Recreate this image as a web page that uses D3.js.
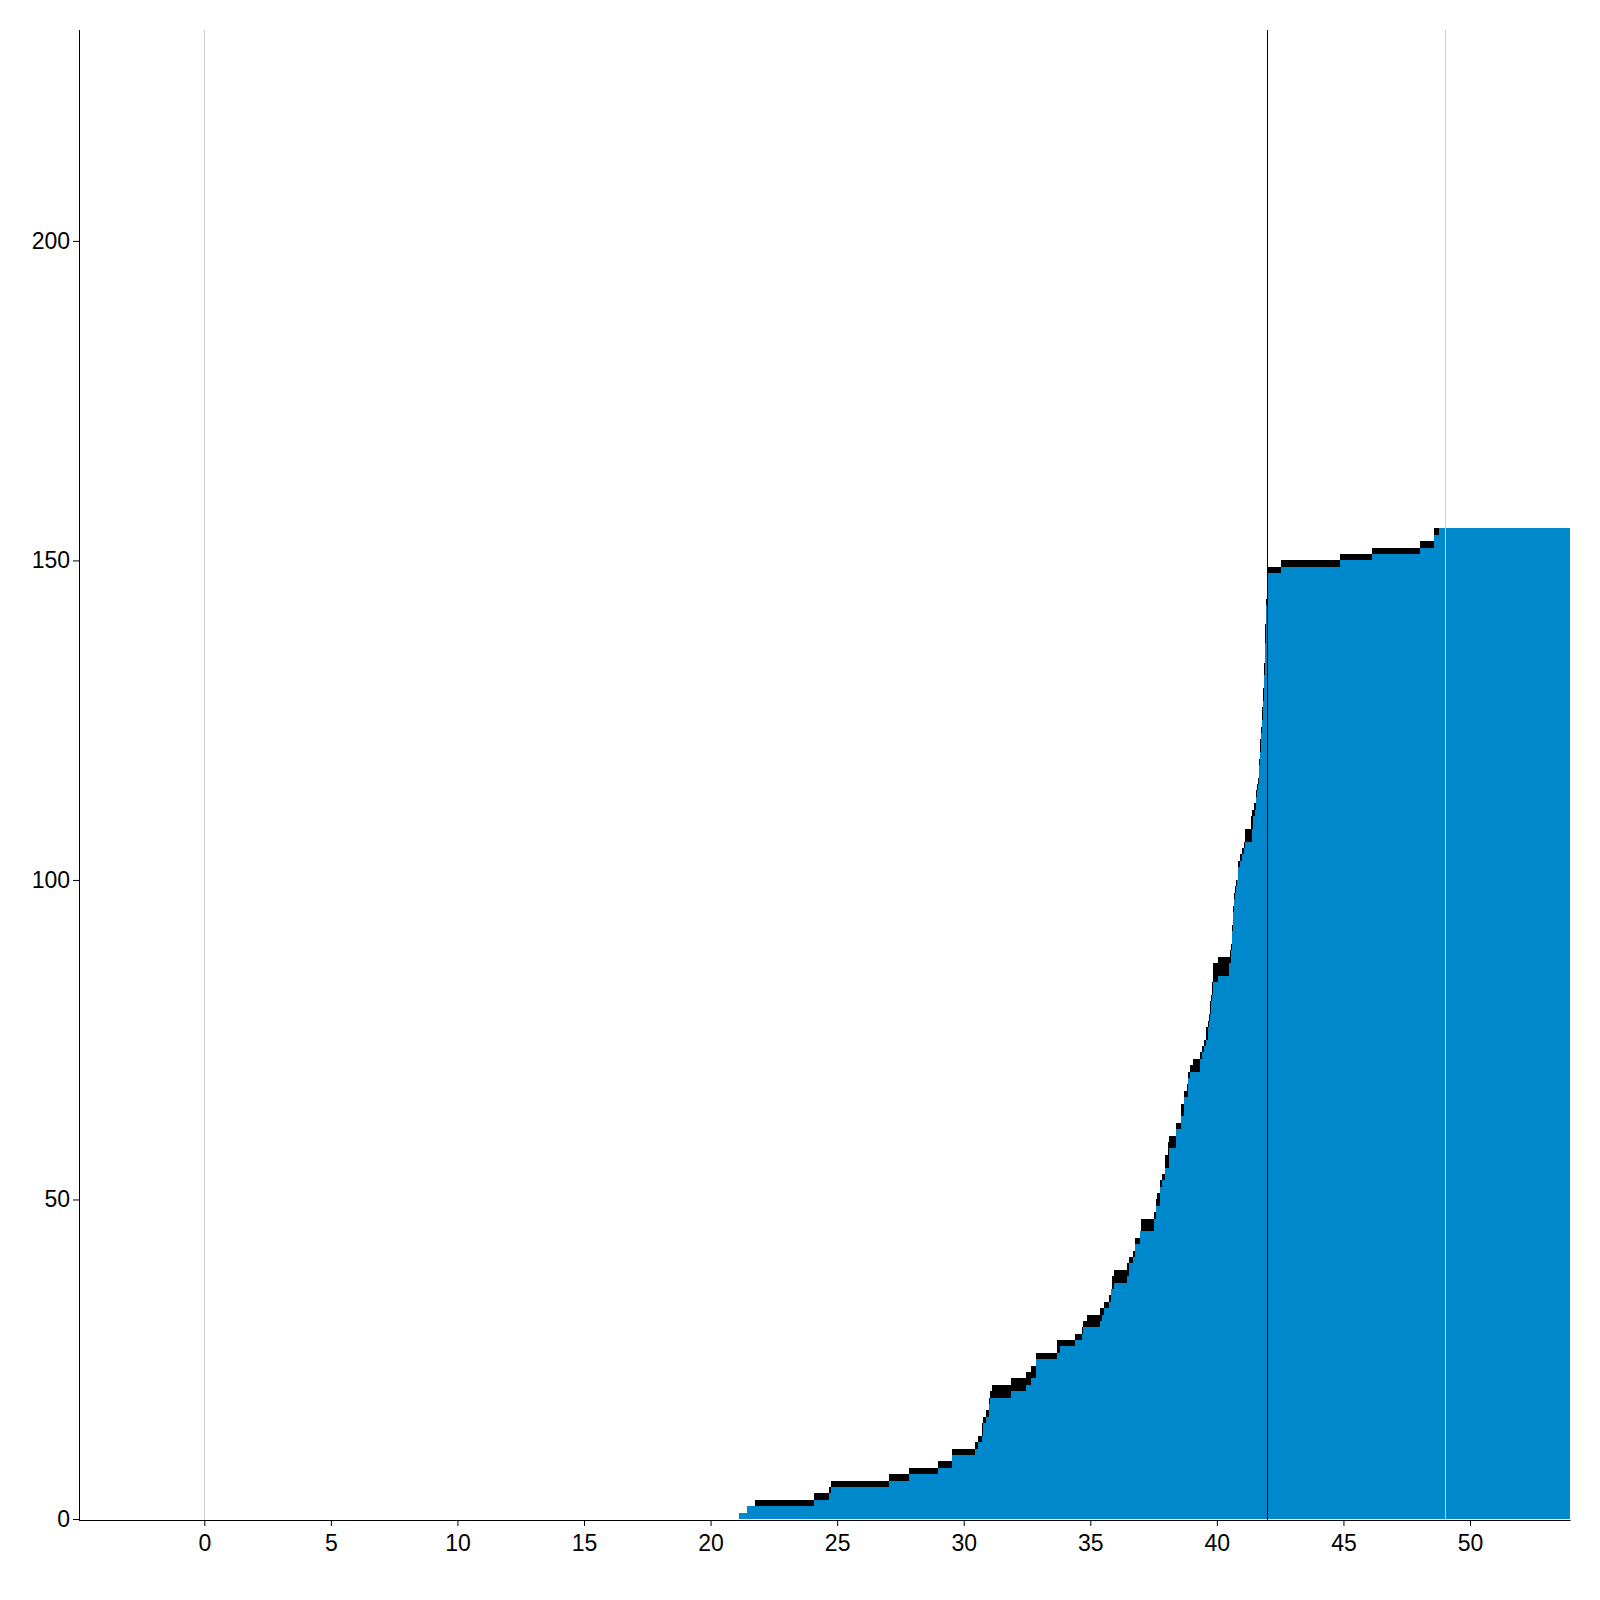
<!DOCTYPE html>
<html>
<head>
<meta charset="utf-8">
<script src="https://cdn.jsdelivr.net/npm/d3@7"></script>
<style>
  html, body { margin: 0; padding: 0; background: #fff; }
  svg { display: block; }
  .axis text { font-family: "Liberation Sans", Arial, sans-serif; font-size: 23px; fill: #000; }
</style>
</head>
<body>
<svg id="chart" width="1600" height="1600"></svg>
<script>
// ---- data ----
const blueDays = [21.12,21.44,24.09,24.68,24.75,27.05,27.84,28.99,29.54,30.45,30.57,30.73,30.77,30.88,31.0,31.04,31.87,32.46,32.66,32.86,33.69,33.81,34.4,34.68,34.72,35.39,35.47,35.55,35.75,35.82,35.94,36.45,36.53,36.69,36.77,36.97,37.5,37.58,37.77,37.84,37.96,38.12,38.4,38.59,38.7,38.86,38.93,39.33,39.4,39.49,39.57,39.65,39.69,39.73,39.77,39.81,39.85,40.05,40.49,40.57,40.6,40.64,40.68,40.72,40.76,40.8,40.84,40.92,41.0,41.08,41.12,41.4,41.44,41.52,41.56,41.6,41.63,41.67,41.71,41.75,41.79,41.83,41.87,41.91,41.95,42.03,42.54,44.87,46.13,48.03,48.59,48.79];
const blueCounts = [1,2,3,4,5,6,7,8,10,11,12,13,15,16,18,19,20,21,22,25,26,27,28,29,30,31,32,33,34,36,37,38,40,41,43,45,47,49,52,53,55,58,61,63,66,69,70,72,73,74,75,77,78,79,81,82,84,85,87,89,92,95,97,98,99,100,102,103,104,105,106,108,110,111,113,114,115,118,120,123,125,128,132,137,143,148,149,150,151,152,154,155];

const blackDays = [21.12,21.44,21.76,24.09,24.68,24.75,27.05,27.84,28.99,29.54,30.45,30.57,30.73,30.77,30.88,31.0,31.04,31.12,31.87,32.46,32.66,32.86,33.69,34.4,34.68,34.72,34.88,35.39,35.55,35.75,35.86,35.94,36.45,36.53,36.69,36.77,36.97,37.01,37.5,37.58,37.62,37.77,37.84,37.96,38.08,38.12,38.4,38.59,38.7,38.82,38.86,38.93,39.05,39.33,39.4,39.49,39.57,39.65,39.69,39.73,39.77,39.81,39.85,40.05,40.53,40.57,40.6,40.64,40.68,40.72,40.76,40.84,40.92,41.0,41.08,41.12,41.36,41.4,41.48,41.56,41.6,41.63,41.67,41.71,41.75,41.79,41.83,41.87,41.91,41.95,42.03,42.54,44.87,46.13,48.03,48.59];
const blackCounts = [1,2,3,4,5,6,7,8,9,11,12,13,15,16,17,19,20,21,22,23,24,26,28,29,30,31,32,33,34,35,38,39,40,41,42,44,45,47,48,50,51,53,54,57,59,60,62,65,67,68,70,71,72,73,74,75,77,78,79,81,82,84,87,88,89,90,93,96,98,99,100,103,104,105,106,108,110,111,112,114,115,116,119,122,124,127,130,134,140,144,149,150,151,152,153,155];

const xDomain = [-4.95, 53.95];
const yDomain = [0, 233];
const xTicks = [0, 5, 10, 15, 20, 25, 30, 35, 40, 45, 50];
const yTicks = [0, 50, 100, 150, 200];
const greyMarkers = [0, 49];
const blackMarkers = [42];

// ---- layout ----
const svg = d3.select("#chart");
const x = d3.scaleLinear().domain(xDomain).range([79, 1570]);
const y = d3.scaleLinear().domain(yDomain).range([1519, 30]);

function series(days, counts) {
  const pts = days.map((d, i) => ({ d: d, v: counts[i] }));
  pts.push({ d: xDomain[1], v: counts[counts.length - 1] });
  return pts;
}

const area = d3.area()
  .curve(d3.curveStepAfter)
  .x(p => x(p.d))
  .y0(y(0))
  .y1(p => y(p.v));

svg.append("path")
  .datum(series(blackDays, blackCounts))
  .attr("d", area)
  .attr("fill", "#000")
  .attr("shape-rendering", "crispEdges");

svg.append("path")
  .datum(series(blueDays, blueCounts))
  .attr("d", area)
  .attr("fill", "#0088cc")
  .attr("shape-rendering", "crispEdges");

// marker lines
svg.selectAll("line.grey").data(greyMarkers).enter().append("line")
  .attr("class", "grey")
  .attr("x1", d => Math.round(x(d)) + 0.5).attr("x2", d => Math.round(x(d)) + 0.5)
  .attr("y1", 30).attr("y2", 1520)
  .attr("stroke", "#cccccc").attr("stroke-width", 1);

svg.selectAll("line.blk").data(blackMarkers).enter().append("line")
  .attr("class", "blk")
  .attr("x1", d => Math.round(x(d)) + 0.5).attr("x2", d => Math.round(x(d)) + 0.5)
  .attr("y1", 30).attr("y2", 1520)
  .attr("stroke", "#000").attr("stroke-width", 1);

// axes
const xAxis = d3.axisBottom(x).tickValues(xTicks).tickSizeOuter(0).tickSize(6).tickPadding(9);
const yAxis = d3.axisLeft(y).tickValues(yTicks).tickSizeOuter(0).tickSize(6).tickPadding(3);

const gx = svg.append("g").attr("class", "axis").attr("transform", "translate(0,1520)").call(xAxis);
const gy = svg.append("g").attr("class", "axis").attr("transform", "translate(79,0)").call(yAxis);
gx.select(".domain").attr("d", "M79,0.5H1570.5");
gy.select(".domain").attr("d", "M0.5,1520.5V30");
gy.selectAll("path, line").attr("stroke", "#000");
gx.selectAll("path, line").attr("stroke", "#000");
</script>
</body>
</html>
